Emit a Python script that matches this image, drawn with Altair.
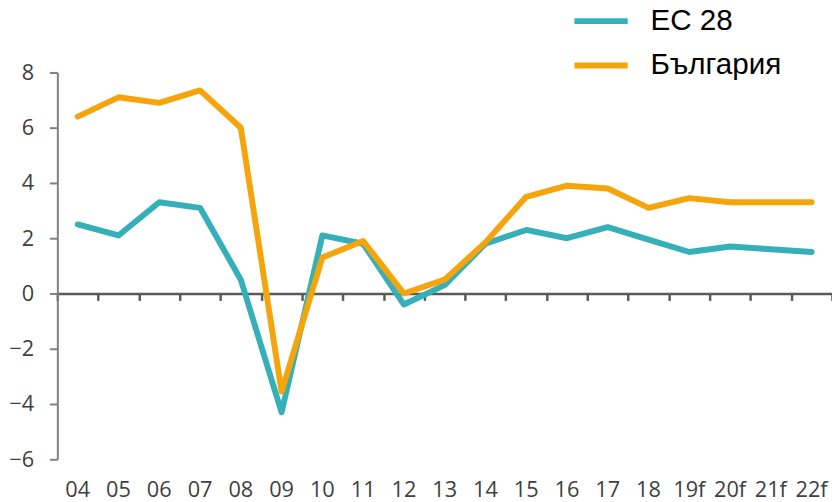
import altair as alt
import pandas as pd

years = ["04", "05", "06", "07", "08", "09", "10", "11", "12", "13", "14",
         "15", "16", "17", "18", "19f", "20f", "21f", "22f"]
ec28 = [2.5, 2.1, 3.3, 3.1, 0.5, -4.3, 2.1, 1.8, -0.4, 0.3, 1.8,
        2.3, 2.0, 2.4, 1.95, 1.5, 1.7, 1.6, 1.5]
bulgaria = [6.4, 7.1, 6.9, 7.35, 6.0, -3.55, 1.3, 1.9, 0.0, 0.5, 1.85,
            3.5, 3.9, 3.8, 3.1, 3.45, 3.3, 3.3, 3.3]
series = ["ЕС 28", "България"]
colors = ["#35B0B8", "#F5A40B"]

df = pd.DataFrame({"year": years * 2,
                   "value": ec28 + bulgaria,
                   "series": [series[0]] * len(years) + [series[1]] * len(years)})

font = "Open Sans"

xscale = alt.Scale(domain=years, paddingInner=0, paddingOuter=0)
yscale = alt.Scale(domain=[-6, 8], nice=False, zero=False)

lines = alt.Chart(df).mark_line(strokeWidth=6, strokeCap="round", strokeJoin="round").encode(
    x=alt.X("year:O", scale=xscale, sort=years,
            axis=alt.Axis(title=None, orient="bottom", domain=False, ticks=False, labelAngle=0,
                          labelFontSize=22, labelColor="#404040", labelFont=font,
                          labelPadding=21)),
    y=alt.Y("value:Q", scale=yscale,
            axis=alt.Axis(title=None, values=[-6, -4, -2, 0, 2, 4, 6, 8], grid=False,
                          domainColor="#808080", domainWidth=2, tickColor="#808080",
                          tickWidth=2, tickSize=8, labelFontSize=22, labelColor="#404040",
                          labelFont=font, labelPadding=16)),
    color=alt.Color("series:N", sort=series,
                    scale=alt.Scale(domain=series, range=colors),
                    legend=alt.Legend(title=None, orient="none", legendX=521, legendY=-82,
                                      symbolType="stroke", symbolStrokeWidth=6,
                                      symbolSize=2916, labelFontSize=30,
                                      labelFont="Liberation Sans", labelColor="#000000",
                                      labelOffset=20, rowPadding=0)),
)

zero_axis = alt.Chart(df).mark_line(opacity=0).encode(
    x=alt.X("year:O", scale=xscale, sort=years,
            axis=alt.Axis(title=None, orient="bottom", labels=False, domain=True, ticks=True,
                          tickBand="extent", offset=-168, domainColor="#5A5A5A",
                          domainWidth=2.5, tickColor="#5A5A5A", tickWidth=2.5, tickSize=7)),
    y=alt.Y("value:Q", scale=yscale),
)

chart = alt.layer(lines, zero_axis).resolve_axis(x="independent").properties(
    width=785, height=392,
    autosize=alt.AutoSizeParams(type="none"),
    padding={"left": 50, "top": 62, "right": 0, "bottom": 40},
).configure_view(stroke=None)

chart.save("out.html", embed_options={"renderer": "svg", "actions": False})
